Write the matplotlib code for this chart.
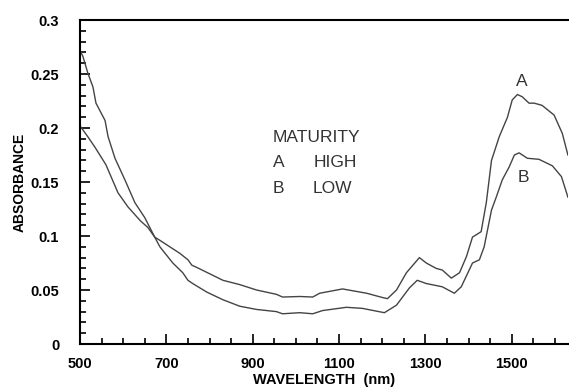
import matplotlib
matplotlib.use("Agg")
import matplotlib.pyplot as plt
from matplotlib.ticker import MultipleLocator, FixedLocator

# curve A (high maturity)
wl_a = [500, 518, 535, 560, 588, 611, 640, 657, 673, 685, 731, 750, 759, 770, 831,
        870, 909, 955, 969, 1009, 1039, 1055, 1108, 1164, 1201, 1212, 1233, 1256,
        1286, 1302, 1325, 1339, 1360, 1379, 1395, 1409, 1429, 1441, 1453, 1471,
        1490, 1501, 1513, 1524, 1540, 1552, 1570, 1598, 1617, 1630]
abs_a = [0.202, 0.192, 0.182, 0.166, 0.140, 0.127, 0.114, 0.108, 0.099, 0.096, 0.084,
         0.078, 0.073, 0.071, 0.059, 0.055, 0.050, 0.046, 0.0435, 0.044, 0.0435,
         0.047, 0.051, 0.047, 0.043, 0.042, 0.050, 0.066, 0.080, 0.075, 0.070,
         0.0685, 0.061, 0.066, 0.081, 0.099, 0.104, 0.131, 0.170, 0.192, 0.210,
         0.226, 0.231, 0.229, 0.223, 0.223, 0.221, 0.212, 0.195, 0.175]

# curve B (low maturity)
wl_b = [500, 507, 518, 530, 537, 558, 565, 581, 604, 627, 650, 673, 685, 715, 738,
        750, 761, 794, 831, 870, 909, 955, 969, 1009, 1039, 1062, 1117, 1154,
        1205, 1233, 1263, 1281, 1302, 1339, 1367, 1383, 1409, 1425, 1436, 1453,
        1464, 1478, 1494, 1506, 1517, 1536, 1563, 1594, 1615, 1630]
abs_b = [0.272, 0.266, 0.251, 0.238, 0.223, 0.207, 0.192, 0.172, 0.152, 0.131, 0.117,
         0.099, 0.090, 0.075, 0.066, 0.059, 0.056, 0.048, 0.041, 0.035, 0.032,
         0.030, 0.028, 0.029, 0.028, 0.031, 0.034, 0.033, 0.029, 0.036, 0.052,
         0.059, 0.056, 0.053, 0.047, 0.053, 0.075, 0.078, 0.090, 0.124, 0.136,
         0.152, 0.164, 0.175, 0.177, 0.172, 0.171, 0.165, 0.155, 0.136]

xticks = [500, 700, 900, 1100, 1300, 1500]

fig = plt.figure(figsize=(5.69, 3.90), dpi=100)
ax = fig.add_axes([0.1406, 0.1179, 0.8575, 0.8308])

ax.plot(wl_a, abs_a, c='#444444', lw=1)
ax.plot(wl_b, abs_b, c='#444444', lw=1)

ax.set_xlim([500, 1630])
ax.set_ylim([0, 0.3])
ax.xaxis.set_major_locator(FixedLocator(xticks))
ax.xaxis.set_minor_locator(MultipleLocator(50))
ax.yaxis.set_major_locator(MultipleLocator(0.05))
ax.yaxis.set_minor_locator(MultipleLocator(0.01))
ax.yaxis.set_major_formatter(plt.FuncFormatter(lambda v, p: ('%g' % round(v, 2))))

ax.spines['right'].set_visible(False)
for s in ['left', 'bottom', 'top']:
    ax.spines[s].set_linewidth(1.5)
ax.tick_params(which='both', direction='in', top=False, right=False, width=1.2)
ax.tick_params(which='major', length=7)
ax.tick_params(which='minor', length=4)
ax.tick_params(axis='y', which='major', pad=15)
ax.tick_params(axis='x', which='major', pad=9)

for lab in ax.get_xticklabels() + ax.get_yticklabels():
    lab.set_fontfamily(['Liberation Sans', 'DejaVu Sans'])
    lab.set_fontweight('bold')
    lab.set_fontsize(10.5)

ax.set_xlabel('WAVELENGTH  (nm)', fontsize=10.5, fontweight='bold',
              family=['Liberation Sans', 'DejaVu Sans'], labelpad=2)
ax.set_ylabel('ABSORBANCE', fontsize=10, fontweight='bold',
              family=['Liberation Sans', 'DejaVu Sans'], labelpad=3)

txt = dict(fontsize=12.5, color='#333333', family=['Liberation Sans', 'DejaVu Sans'],
           va='center', ha='left')
ax.text(946, 0.191, 'MATURITY', **txt)
ax.text(946, 0.168, 'A', **txt)
ax.text(1041, 0.168, 'HIGH', **txt)
ax.text(946, 0.144, 'B', **txt)
ax.text(1039, 0.144, 'LOW', **txt)
ax.text(1524, 0.243, 'A', fontsize=12.5, color='#333333',
        family=['Liberation Sans', 'DejaVu Sans'], ha='center', va='center')
ax.text(1527, 0.154, 'B', fontsize=12.5, color='#333333',
        family=['Liberation Sans', 'DejaVu Sans'], ha='center', va='center')

plt.savefig('out.png', dpi=100)
